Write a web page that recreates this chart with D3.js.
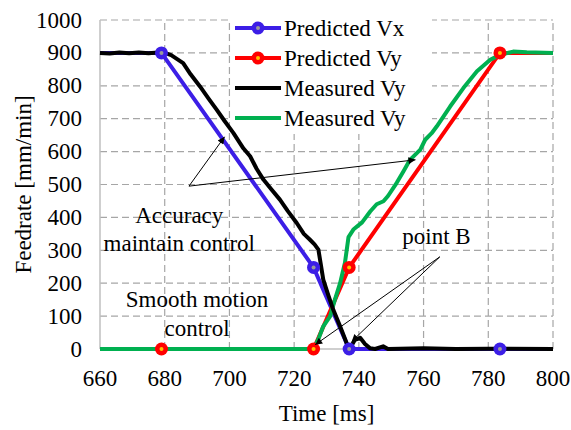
<!DOCTYPE html>
<html>
<head>
<meta charset="utf-8">
<script src="https://cdn.jsdelivr.net/npm/d3@7"></script>
<style>
  body { margin: 0; background: #fff; }
  svg text { font-family: "Liberation Serif", "DejaVu Serif", "Times New Roman", Times, serif; }
</style>
</head>
<body>
<svg id="chart" width="571" height="430"></svg>
<script>
// Data
const xTicks = [660, 680, 700, 720, 740, 760, 780, 800];
const yTicks = [0, 100, 200, 300, 400, 500, 600, 700, 800, 900, 1000];

const predictedVx = [[660, 900], [679, 900], [726, 248], [737, 0], [783.6, 0], [800, 0]];
const predictedVxMarkers = [[679, 900], [726, 248], [737, 0], [783.6, 0]];
const predictedVy = [[660, 0], [679, 0], [726, 0], [737, 248], [783.6, 900], [800, 900]];
const predictedVyMarkers = [[679, 0], [726, 0], [737, 248], [783.6, 900]];

const measuredVx = [[660, 900], [663, 898], [666, 901], [669, 899], [672, 901], [675, 899], [678, 901],
  [680, 900], [682, 893], [685.7, 869], [688, 835], [690.9, 798], [693.5, 762], [696.1, 727],
  [698.5, 693], [701.2, 657], [704.3, 610], [706.4, 586], [708.4, 548], [710.5, 515], [713, 485],
  [715.6, 454], [718, 420], [720.8, 383], [723, 350], [724.9, 332], [726.3, 318], [727.5, 302],
  [729, 211], [730.5, 165], [732.1, 119], [734.2, 69], [736.2, 18], [737.3, 3], [738.8, 28],
  [740.4, 34], [741.9, 15], [743.5, 2], [745, 0], [747.5, 8], [749, 0], [760, 2], [770, 0],
  [780, 1], [800, 0]];

const measuredVy = [[660, 0], [726, 0], [727.5, 30], [729, 69], [731.1, 99], [732.6, 150], [734.2, 200],
  [735.7, 262], [736.8, 340], [738.3, 363], [741, 385], [743.5, 418], [745.5, 440], [747.6, 449],
  [749, 465], [751.7, 505], [753.8, 540], [755.8, 575], [759, 606], [760.5, 636], [762.5, 656],
  [764.1, 677], [768.2, 737], [772.3, 793], [776.5, 844], [780.6, 879], [783.6, 894], [787.7, 904],
  [791.9, 902], [800, 900]];

const seriesNames = ["Predicted Vx", "Predicted Vy", "Measured Vy", "Measured Vy"];
const seriesColors = ["#3c1ee6", "#ff0000", "#000000", "#00b050"];

// annotation arrows in data units: [from, to]
const accuracyArrows = [[[687.5, 495], [698.5, 645]], [[687.5, 495], [757.5, 575]]];
const pointBArrows = [[[765, 280], [726.5, 13]], [[765, 280], [737.8, 23]]];

const svg = d3.select("#chart");
const x = d3.scaleLinear().domain([660, 800]).range([100, 553]);
const y = d3.scaleLinear().domain([0, 1000]).range([349, 20]);
const fs = 23;

// grid
svg.append("g").selectAll("line").data(xTicks.slice(1)).join("line")
  .attr("x1", d => x(d)).attr("x2", d => x(d)).attr("y1", y(0)).attr("y2", y(1000))
  .attr("stroke", "#a6a6a6").attr("stroke-width", 1.2).attr("stroke-dasharray", "7,4");
svg.append("g").selectAll("line").data(yTicks.slice(1)).join("line")
  .attr("x1", x(660)).attr("x2", x(800)).attr("y1", d => y(d)).attr("y2", d => y(d))
  .attr("stroke", "#a6a6a6").attr("stroke-width", 1.2).attr("stroke-dasharray", "7,4");

// axes lines
svg.append("line").attr("x1", x(660)).attr("x2", x(660)).attr("y1", y(0)).attr("y2", y(1000))
  .attr("stroke", "#bfbfbf").attr("stroke-width", 1.5);
svg.append("line").attr("x1", x(660)).attr("x2", x(800)).attr("y1", y(0)).attr("y2", y(0))
  .attr("stroke", "#bfbfbf").attr("stroke-width", 1.5);

// tick labels
svg.append("g").selectAll("text").data(yTicks).join("text")
  .attr("x", 82).attr("y", d => y(d) + 7.5).attr("text-anchor", "end")
  .attr("font-size", fs).text(d => d);
svg.append("g").selectAll("text").data(xTicks).join("text")
  .attr("x", d => x(d)).attr("y", 386).attr("text-anchor", "middle")
  .attr("font-size", fs).text(d => d);

// axis titles
svg.append("text").attr("transform", "translate(31," + ((y(0) + y(1000)) / 2) + ") rotate(-90)")
  .attr("text-anchor", "middle").attr("font-size", fs).text("Feedrate [mm/min]");
svg.append("text").attr("x", (x(660) + x(800)) / 2).attr("y", 421)
  .attr("text-anchor", "middle").attr("font-size", fs).text("Time [ms]");

// legend background
svg.append("rect").attr("x", 231).attr("y", 14).attr("width", 201).attr("height", 120).attr("fill", "#fff");

const line = d3.line().x(d => x(d[0])).y(d => y(d[1]));

// lines
svg.append("path").datum(predictedVx).attr("d", line).attr("fill", "none")
  .attr("stroke", seriesColors[0]).attr("stroke-width", 4);
svg.append("path").datum(predictedVy).attr("d", line).attr("fill", "none")
  .attr("stroke", seriesColors[1]).attr("stroke-width", 4);
svg.append("path").datum(measuredVy).attr("d", line).attr("fill", "none")
  .attr("stroke", seriesColors[3]).attr("stroke-width", 4).attr("stroke-linejoin", "round");
svg.append("path").datum(measuredVx).attr("d", line).attr("fill", "none")
  .attr("stroke", seriesColors[2]).attr("stroke-width", 4).attr("stroke-linejoin", "round");

// markers
function markers(data, color, inner) {
  const g = svg.append("g");
  g.selectAll("circle.o").data(data).join("circle").attr("class", "o")
    .attr("cx", d => x(d[0])).attr("cy", d => y(d[1])).attr("r", 6.5).attr("fill", color);
  g.selectAll("circle.i").data(data).join("circle").attr("class", "i")
    .attr("cx", d => x(d[0])).attr("cy", d => y(d[1])).attr("r", 2).attr("fill", inner);
}
markers(predictedVxMarkers, seriesColors[0], "#9a9a9a");
markers(predictedVyMarkers, seriesColors[1], "#ffc000");

// legend
const legendRows = [28, 58, 88, 118];
seriesNames.forEach((name, i) => {
  const ly = legendRows[i];
  svg.append("line").attr("x1", 235).attr("x2", 281).attr("y1", ly).attr("y2", ly)
    .attr("stroke", seriesColors[i]).attr("stroke-width", 4);
  if (i < 2) {
    svg.append("circle").attr("cx", 258).attr("cy", ly).attr("r", 6.5).attr("fill", seriesColors[i]);
    svg.append("circle").attr("cx", 258).attr("cy", ly).attr("r", 2).attr("fill", i === 0 ? "#9a9a9a" : "#ffc000");
  }
  svg.append("text").attr("x", 284).attr("y", ly + 8).attr("font-size", fs).text(name);
});

// arrows
svg.append("defs").append("marker").attr("id", "arrow")
  .attr("viewBox", "0 0 10 10").attr("refX", 10).attr("refY", 5)
  .attr("markerWidth", 10).attr("markerHeight", 7).attr("markerUnits", "userSpaceOnUse")
  .attr("orient", "auto")
  .append("path").attr("d", "M0,0 L10,5 L0,10 z").attr("fill", "#000");

accuracyArrows.concat(pointBArrows).forEach(a => {
  svg.append("line")
    .attr("x1", x(a[0][0])).attr("y1", y(a[0][1]))
    .attr("x2", x(a[1][0])).attr("y2", y(a[1][1]))
    .attr("stroke", "#000").attr("stroke-width", 1).attr("marker-end", "url(#arrow)");
});

// annotation text
const notes = [
  { t: "Accuracy", x: 684.5, y: 223 },
  { t: "maintain control", x: 684.5, y: 251 },
  { t: "Smooth motion", x: 690, y: 307 },
  { t: "control", x: 690, y: 336 },
  { t: "point B", x: 764, y: 244 }
];
svg.append("g").selectAll("text").data(notes).join("text")
  .attr("x", d => x(d.x)).attr("y", d => d.y).attr("text-anchor", "middle")
  .attr("font-size", fs).text(d => d.t);
</script>
</body>
</html>
